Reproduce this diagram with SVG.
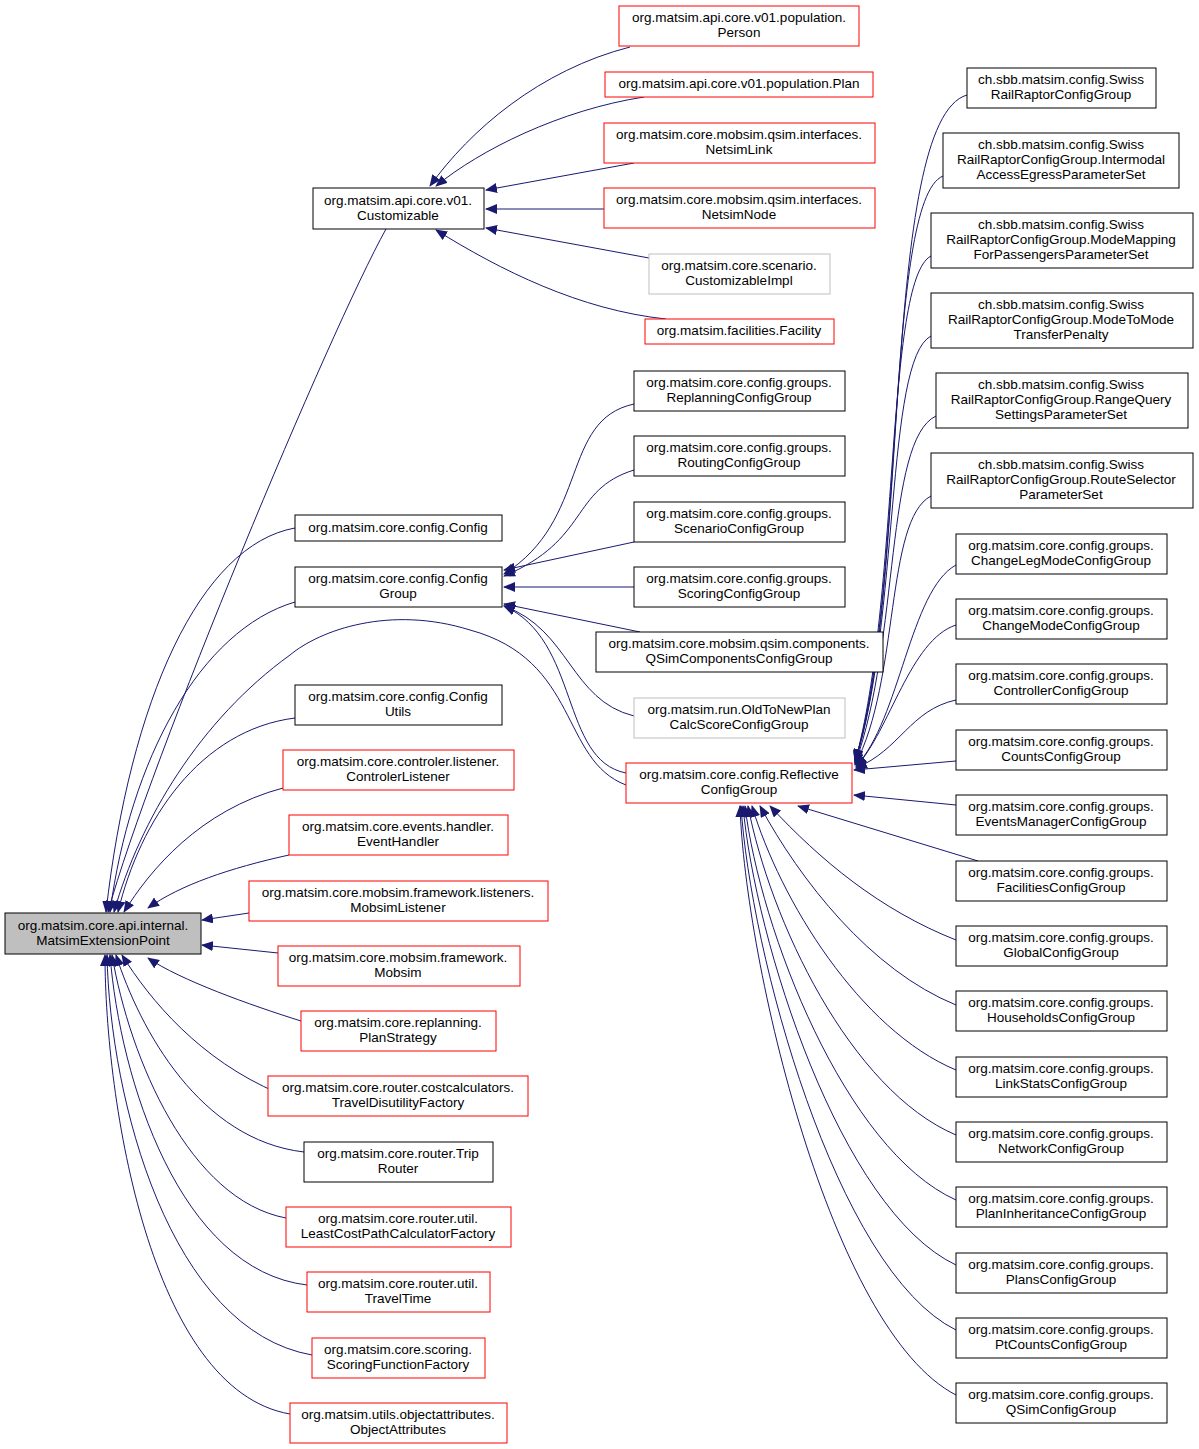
<svg xmlns="http://www.w3.org/2000/svg" width="1199" height="1449" viewBox="0 0 1199 1449">
<defs>
<marker id="a" viewBox="0 0 12 10" refX="11" refY="5" markerWidth="12" markerHeight="10" markerUnits="userSpaceOnUse" orient="auto-start-reverse"><path d="M0,0 L12,5 L0,10 z" fill="#191970"/></marker>
<style>
rect{fill:#fff;stroke:#000;stroke-width:1}
rect.r{stroke:#f00}
rect.g{stroke:#bfbfbf}
rect.root{fill:#bfbfbf}
text{font-family:"Liberation Sans",Arial,sans-serif;font-size:13.5px;text-anchor:middle;fill:#000}
#edges path{fill:none;stroke:#191970;stroke-width:1;marker-end:url(#a)}
</style>
</defs>
<rect width="1199" height="1449" style="fill:#fff;stroke:none"/>
<g id="edges">
<path d="M386,229 C330,330 150,760 108,912"/>
<path d="M295,528 C200,545 130,700 106,912"/>
<path d="M295,602 C200,630 130,760 110,912"/>
<path d="M626,785 C560,760 580,660 470,630 C390,605 320,630 290,655 C200,720 140,820 114,912"/>
<path d="M295,718 C200,730 140,820 118,912"/>
<path d="M283,788 C200,810 150,870 124,912"/>
<path d="M289,855 C230,868 180,885 148,908"/>
<path d="M249,913 L202,920"/>
<path d="M278,953 L202,945"/>
<path d="M301,1021 C250,1005 180,980 148,958"/>
<path d="M278,1093 C200,1060 150,1000 122,955"/>
<path d="M304,1152 C200,1140 140,1030 116,955"/>
<path d="M286,1218 C190,1200 130,1060 112,955"/>
<path d="M307,1285 C180,1270 120,1080 110,955"/>
<path d="M312,1355 C170,1330 110,1100 107,955"/>
<path d="M290,1414 C150,1390 105,1100 105,955"/>
<path d="M630,47 C540,70 470,130 430,186"/>
<path d="M644,97 C560,110 480,150 436,186"/>
<path d="M634,163 L486,190"/>
<path d="M604,209 L486,209"/>
<path d="M649,258 L486,228"/>
<path d="M666,319 C580,310 500,270 436,230"/>
<path d="M634,404 C560,420 590,520 504,574"/>
<path d="M634,470 C570,490 590,540 504,576"/>
<path d="M634,542 L504,570"/>
<path d="M634,587 L504,587"/>
<path d="M640,632 L504,604"/>
<path d="M634,716 C570,700 570,630 504,606"/>
<path d="M626,773 C560,760 580,640 504,606"/>
<path d="M967,95 C880,120 910,600 855,760"/>
<path d="M943,176 C885,200 905,600 855,761"/>
<path d="M931,256 C885,280 900,600 855,762"/>
<path d="M931,336 C885,360 900,620 855,763"/>
<path d="M936,416 C885,440 900,640 855,764"/>
<path d="M931,496 C885,520 900,680 855,765"/>
<path d="M956,565 C910,590 900,720 856,766"/>
<path d="M956,625 C910,640 890,730 856,767"/>
<path d="M956,700 C910,710 900,750 856,768"/>
<path d="M956,761 L854,770"/>
<path d="M956,805 L854,795"/>
<path d="M978,861 L798,806"/>
<path d="M956,940 C880,910 820,860 770,806"/>
<path d="M956,1005 C870,970 800,880 760,806"/>
<path d="M956,1070 C860,1030 780,900 752,806"/>
<path d="M956,1135 C850,1090 770,920 748,806"/>
<path d="M956,1200 C845,1150 760,930 745,806"/>
<path d="M956,1265 C840,1210 755,940 743,806"/>
<path d="M956,1330 C835,1270 750,950 741,806"/>
<path d="M956,1395 C830,1330 745,960 740,806"/>
</g>
<g id="root"><rect class="root" x="5" y="913" width="196" height="41"/><text x="103" y="930">org.matsim.core.api.internal.</text><text x="103" y="945">MatsimExtensionPoint</text></g>
<g id="customizable"><rect x="313" y="188" width="171" height="41"/><text x="398" y="205">org.matsim.api.core.v01.</text><text x="398" y="220">Customizable</text></g>
<g id="config"><rect x="295" y="515" width="207" height="26"/><text x="398" y="532">org.matsim.core.config.Config</text></g>
<g id="configgroup"><rect x="295" y="567" width="207" height="40"/><text x="398" y="583">org.matsim.core.config.Config</text><text x="398" y="598">Group</text></g>
<g id="configutils"><rect x="295" y="685" width="207" height="40"/><text x="398" y="701">org.matsim.core.config.Config</text><text x="398" y="716">Utils</text></g>
<g id="controlerlistener"><rect class="r" x="283" y="750" width="231" height="40"/><text x="398" y="766">org.matsim.core.controler.listener.</text><text x="398" y="781">ControlerListener</text></g>
<g id="eventhandler"><rect class="r" x="289" y="815" width="219" height="40"/><text x="398" y="831">org.matsim.core.events.handler.</text><text x="398" y="846">EventHandler</text></g>
<g id="mobsimlistener"><rect class="r" x="249" y="881" width="299" height="40"/><text x="398" y="897">org.matsim.core.mobsim.framework.listeners.</text><text x="398" y="912">MobsimListener</text></g>
<g id="mobsim"><rect class="r" x="278" y="946" width="242" height="40"/><text x="398" y="962">org.matsim.core.mobsim.framework.</text><text x="398" y="977">Mobsim</text></g>
<g id="planstrategy"><rect class="r" x="301" y="1011" width="195" height="40"/><text x="398" y="1027">org.matsim.core.replanning.</text><text x="398" y="1042">PlanStrategy</text></g>
<g id="traveldisutility"><rect class="r" x="268" y="1076" width="260" height="40"/><text x="398" y="1092">org.matsim.core.router.costcalculators.</text><text x="398" y="1107">TravelDisutilityFactory</text></g>
<g id="triprouter"><rect x="304" y="1142" width="189" height="40"/><text x="398" y="1158">org.matsim.core.router.Trip</text><text x="398" y="1173">Router</text></g>
<g id="leastcost"><rect class="r" x="286" y="1207" width="225" height="40"/><text x="398" y="1223">org.matsim.core.router.util.</text><text x="398" y="1238">LeastCostPathCalculatorFactory</text></g>
<g id="traveltime"><rect class="r" x="307" y="1272" width="183" height="40"/><text x="398" y="1288">org.matsim.core.router.util.</text><text x="398" y="1303">TravelTime</text></g>
<g id="scoringfunction"><rect class="r" x="312" y="1338" width="173" height="40"/><text x="398" y="1354">org.matsim.core.scoring.</text><text x="398" y="1369">ScoringFunctionFactory</text></g>
<g id="objectattributes"><rect class="r" x="290" y="1403" width="217" height="40"/><text x="398" y="1419">org.matsim.utils.objectattributes.</text><text x="398" y="1434">ObjectAttributes</text></g>
<g id="person"><rect class="r" x="619" y="6" width="240" height="40"/><text x="739" y="22">org.matsim.api.core.v01.population.</text><text x="739" y="37">Person</text></g>
<g id="plan"><rect class="r" x="605" y="72" width="268" height="25"/><text x="739" y="88">org.matsim.api.core.v01.population.Plan</text></g>
<g id="netsimlink"><rect class="r" x="604" y="123" width="271" height="40"/><text x="739" y="139">org.matsim.core.mobsim.qsim.interfaces.</text><text x="739" y="154">NetsimLink</text></g>
<g id="netsimnode"><rect class="r" x="604" y="188" width="271" height="40"/><text x="739" y="204">org.matsim.core.mobsim.qsim.interfaces.</text><text x="739" y="219">NetsimNode</text></g>
<g id="customizableimpl"><rect class="g" x="649" y="254" width="181" height="40"/><text x="739" y="270">org.matsim.core.scenario.</text><text x="739" y="285">CustomizableImpl</text></g>
<g id="facility"><rect class="r" x="645" y="319" width="189" height="25"/><text x="739" y="335">org.matsim.facilities.Facility</text></g>
<g id="replanning"><rect x="634" y="371" width="211" height="40"/><text x="739" y="387">org.matsim.core.config.groups.</text><text x="739" y="402">ReplanningConfigGroup</text></g>
<g id="routing"><rect x="634" y="436" width="211" height="40"/><text x="739" y="452">org.matsim.core.config.groups.</text><text x="739" y="467">RoutingConfigGroup</text></g>
<g id="scenario"><rect x="634" y="502" width="211" height="40"/><text x="739" y="518">org.matsim.core.config.groups.</text><text x="739" y="533">ScenarioConfigGroup</text></g>
<g id="scoring"><rect x="634" y="567" width="211" height="40"/><text x="739" y="583">org.matsim.core.config.groups.</text><text x="739" y="598">ScoringConfigGroup</text></g>
<g id="qsimcomponents"><rect x="596" y="632" width="287" height="40"/><text x="739" y="648">org.matsim.core.mobsim.qsim.components.</text><text x="739" y="663">QSimComponentsConfigGroup</text></g>
<g id="oldtonew"><rect class="g" x="634" y="698" width="211" height="40"/><text x="739" y="714">org.matsim.run.OldToNewPlan</text><text x="739" y="729">CalcScoreConfigGroup</text></g>
<g id="reflective"><rect class="r" x="626" y="763" width="226" height="40"/><text x="739" y="779">org.matsim.core.config.Reflective</text><text x="739" y="794">ConfigGroup</text></g>
<g id="swissrail"><rect x="967" y="68" width="189" height="40"/><text x="1061" y="84">ch.sbb.matsim.config.Swiss</text><text x="1061" y="99">RailRaptorConfigGroup</text></g>
<g id="intermodal"><rect x="943" y="133" width="236" height="55"/><text x="1061" y="149">ch.sbb.matsim.config.Swiss</text><text x="1061" y="164">RailRaptorConfigGroup.Intermodal</text><text x="1061" y="179">AccessEgressParameterSet</text></g>
<g id="modemapping"><rect x="931" y="213" width="262" height="55"/><text x="1061" y="229">ch.sbb.matsim.config.Swiss</text><text x="1061" y="244">RailRaptorConfigGroup.ModeMapping</text><text x="1061" y="259">ForPassengersParameterSet</text></g>
<g id="modetomode"><rect x="931" y="293" width="262" height="55"/><text x="1061" y="309">ch.sbb.matsim.config.Swiss</text><text x="1061" y="324">RailRaptorConfigGroup.ModeToMode</text><text x="1061" y="339">TransferPenalty</text></g>
<g id="rangequery"><rect x="936" y="373" width="252" height="55"/><text x="1061" y="389">ch.sbb.matsim.config.Swiss</text><text x="1061" y="404">RailRaptorConfigGroup.RangeQuery</text><text x="1061" y="419">SettingsParameterSet</text></g>
<g id="routeselector"><rect x="931" y="453" width="262" height="55"/><text x="1061" y="469">ch.sbb.matsim.config.Swiss</text><text x="1061" y="484">RailRaptorConfigGroup.RouteSelector</text><text x="1061" y="499">ParameterSet</text></g>
<g id="changelegmode"><rect x="956" y="534" width="211" height="40"/><text x="1061" y="550">org.matsim.core.config.groups.</text><text x="1061" y="565">ChangeLegModeConfigGroup</text></g>
<g id="changemode"><rect x="956" y="599" width="211" height="40"/><text x="1061" y="615">org.matsim.core.config.groups.</text><text x="1061" y="630">ChangeModeConfigGroup</text></g>
<g id="controller"><rect x="956" y="664" width="211" height="40"/><text x="1061" y="680">org.matsim.core.config.groups.</text><text x="1061" y="695">ControllerConfigGroup</text></g>
<g id="counts"><rect x="956" y="730" width="211" height="40"/><text x="1061" y="746">org.matsim.core.config.groups.</text><text x="1061" y="761">CountsConfigGroup</text></g>
<g id="eventsmanager"><rect x="956" y="795" width="211" height="40"/><text x="1061" y="811">org.matsim.core.config.groups.</text><text x="1061" y="826">EventsManagerConfigGroup</text></g>
<g id="facilities"><rect x="956" y="861" width="211" height="40"/><text x="1061" y="877">org.matsim.core.config.groups.</text><text x="1061" y="892">FacilitiesConfigGroup</text></g>
<g id="global"><rect x="956" y="926" width="211" height="40"/><text x="1061" y="942">org.matsim.core.config.groups.</text><text x="1061" y="957">GlobalConfigGroup</text></g>
<g id="households"><rect x="956" y="991" width="211" height="40"/><text x="1061" y="1007">org.matsim.core.config.groups.</text><text x="1061" y="1022">HouseholdsConfigGroup</text></g>
<g id="linkstats"><rect x="956" y="1057" width="211" height="40"/><text x="1061" y="1073">org.matsim.core.config.groups.</text><text x="1061" y="1088">LinkStatsConfigGroup</text></g>
<g id="network"><rect x="956" y="1122" width="211" height="40"/><text x="1061" y="1138">org.matsim.core.config.groups.</text><text x="1061" y="1153">NetworkConfigGroup</text></g>
<g id="planinheritance"><rect x="956" y="1187" width="211" height="40"/><text x="1061" y="1203">org.matsim.core.config.groups.</text><text x="1061" y="1218">PlanInheritanceConfigGroup</text></g>
<g id="plans"><rect x="956" y="1253" width="211" height="40"/><text x="1061" y="1269">org.matsim.core.config.groups.</text><text x="1061" y="1284">PlansConfigGroup</text></g>
<g id="ptcounts"><rect x="956" y="1318" width="211" height="40"/><text x="1061" y="1334">org.matsim.core.config.groups.</text><text x="1061" y="1349">PtCountsConfigGroup</text></g>
<g id="qsim"><rect x="956" y="1383" width="211" height="40"/><text x="1061" y="1399">org.matsim.core.config.groups.</text><text x="1061" y="1414">QSimConfigGroup</text></g>
</svg>
